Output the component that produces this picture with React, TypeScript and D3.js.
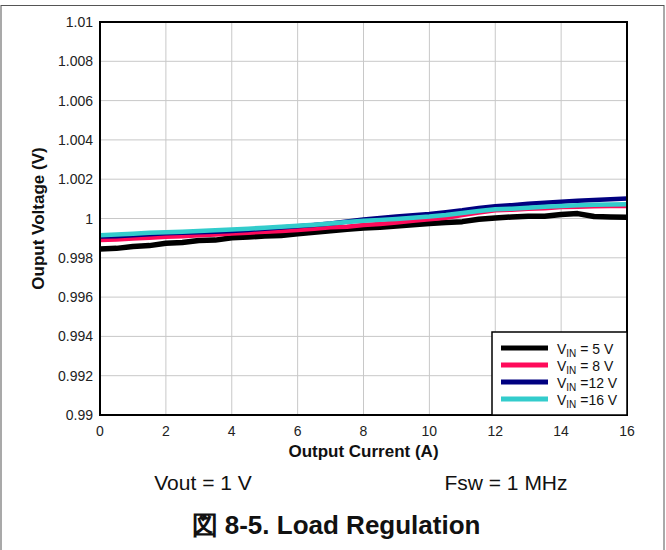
import React from "react";
import * as d3 from "d3";

const currents = [0, 0.5, 1, 1.5, 2, 2.5, 3, 3.5, 4, 4.5, 5, 5.5, 6, 6.5, 7, 7.5, 8, 8.5, 9, 9.5, 10, 10.5, 11, 11.5, 12, 12.5, 13, 13.5, 14, 14.5, 15, 15.5, 16];
const vin5 = [0.99845, 0.99848, 0.99858, 0.99862, 0.99874, 0.99878, 0.99888, 0.9989, 0.99902, 0.99906, 0.99911, 0.99914, 0.99922, 0.9993, 0.99938, 0.99945, 0.99952, 0.99955, 0.99962, 0.99968, 0.99975, 0.9998, 0.99984, 0.99996, 1.00003, 1.00008, 1.00012, 1.00012, 1.0002, 1.00025, 1.0001, 1.00008, 1.00006];
const vin8 = [0.9989, 0.99893, 0.99898, 0.99902, 0.99907, 0.9991, 0.99915, 0.99918, 0.99924, 0.99928, 0.99932, 0.99936, 0.99941, 0.99948, 0.99955, 0.99958, 0.99967, 0.99972, 0.9998, 0.99988, 0.99996, 1.00004, 1.00018, 1.0003, 1.00042, 1.00045, 1.0005, 1.00052, 1.00058, 1.0006, 1.00062, 1.00063, 1.00064];
const vin12 = [0.99908, 0.9991, 0.99915, 0.9992, 0.99925, 0.99927, 0.9993, 0.99933, 0.99937, 0.99942, 0.99948, 0.99954, 0.9996, 0.99967, 0.99975, 0.99985, 0.99995, 1.00003, 1.0001, 1.00016, 1.00023, 1.00032, 1.00042, 1.00054, 1.00063, 1.00068, 1.00075, 1.0008, 1.00085, 1.0009, 1.00094, 1.00098, 1.00102];
const vin16 = [0.99915, 0.99918, 0.99922, 0.99927, 0.9993, 0.99933, 0.99937, 0.9994, 0.99944, 0.99948, 0.99953, 0.99958, 0.99963, 0.99968, 0.99975, 0.99982, 0.99989, 0.99993, 0.99998, 1.00004, 1.0001, 1.00018, 1.00028, 1.00038, 1.00047, 1.0005, 1.00055, 1.0006, 1.00064, 1.00067, 1.0007, 1.00071, 1.00072];

const xTicks = [0, 2, 4, 6, 8, 10, 12, 14, 16];
const yTicks = [0.99, 0.992, 0.994, 0.996, 0.998, 1, 1.002, 1.004, 1.006, 1.008, 1.01];
const yTickLabels = ["0.99", "0.992", "0.994", "0.996", "0.998", "1", "1.002", "1.004", "1.006", "1.008", "1.01"];

const seriesNames = ["5 V", "8 V", "12 V", "16 V"];
const seriesSep = [" = ", " = ", " =", " ="];
const seriesColors = ["#000000", "#ff0a5a", "#000080", "#33cccc"];
const seriesValues = [vin5, vin8, vin12, vin16];

export default function App() {
  const L = 100, R = 627, T = 22, B = 415;
  const x = d3.scaleLinear().domain([0, 16]).range([L, R]);
  const y = d3.scaleLinear().domain([0.99, 1.01]).range([B, T]);
  const line = d3.line<number>().x((_, i) => x(currents[i])).y((d) => y(d));
  const font = "Arial, 'Liberation Sans', sans-serif";
  const legX = 492, legY = 332;
  const rows = [348, 365, 382, 399];

  return (
    <svg width={666} height={550} style={{ position: "absolute", left: 0, top: 0 }} fontFamily={font}>
      <rect x={0} y={0} width={666} height={550} fill="#fff" />
      <rect x={1} y={5.5} width={663} height={548} fill="none" stroke="#555" strokeWidth={1} />
      {xTicks.map((t) => (
        <line key={"gx" + t} x1={x(t)} x2={x(t)} y1={T} y2={B} stroke="#c8c8c8" strokeWidth={1} />
      ))}
      {yTicks.map((t) => (
        <line key={"gy" + t} x1={L} x2={R} y1={y(t)} y2={y(t)} stroke="#c8c8c8" strokeWidth={1} />
      ))}
      <defs>
        <clipPath id="plotclip">
          <rect x={L} y={T} width={R - L} height={B - T} />
        </clipPath>
      </defs>
      <g clipPath="url(#plotclip)">
        {seriesValues.map((vals, i) => (
          <path key={"s" + i} d={line(vals) || ""} fill="none" stroke={seriesColors[i]}
            strokeWidth={i === 0 ? 5.5 : 4.5} strokeLinejoin="round" />
        ))}
      </g>
      <rect x={L} y={T} width={R - L} height={B - T} fill="none" stroke="#000" strokeWidth={2} />
      {xTicks.map((t) => (
        <text key={"tx" + t} x={x(t)} y={436} textAnchor="middle" fontSize={14} fill="#222">{t}</text>
      ))}
      {yTicks.map((t, i) => (
        <text key={"ty" + t} x={L - 7} y={y(t) + 5} textAnchor="end" fontSize={14} fill="#222">{yTickLabels[i]}</text>
      ))}
      <text x={(L + R) / 2} y={457} textAnchor="middle" fontSize={17} fontWeight="bold" fill="#111">Output Current (A)</text>
      <text transform={`translate(44, ${(T + B) / 2}) rotate(-90)`} textAnchor="middle" fontSize={17} fontWeight="bold" fill="#111">Ouput Voltage (V)</text>
      <rect x={legX} y={legY} width={R - legX} height={B - legY} fill="#fff" stroke="#000" strokeWidth={1.5} />
      {seriesNames.map((n, i) => (
        <g key={"lg" + i}>
          <line x1={501} x2={548} y1={rows[i]} y2={rows[i]} stroke={seriesColors[i]} strokeWidth={5} />
          <text x={557} y={rows[i] + 5.5} fontSize={14} fill="#111">
            V<tspan fontSize={10} dy={3}>IN</tspan><tspan dy={-3}>{seriesSep[i] + n}</tspan>
          </text>
        </g>
      ))}
      <text x={203} y={490} textAnchor="middle" fontSize={21} fill="#111">Vout = 1 V</text>
      <text x={506} y={490} textAnchor="middle" fontSize={21} fill="#111">Fsw = 1 MHz</text>
      <text x={336} y={534} textAnchor="middle" fontSize={26} fontWeight="bold" fill="#111">図 8-5. Load Regulation</text>
    </svg>
  );
}
